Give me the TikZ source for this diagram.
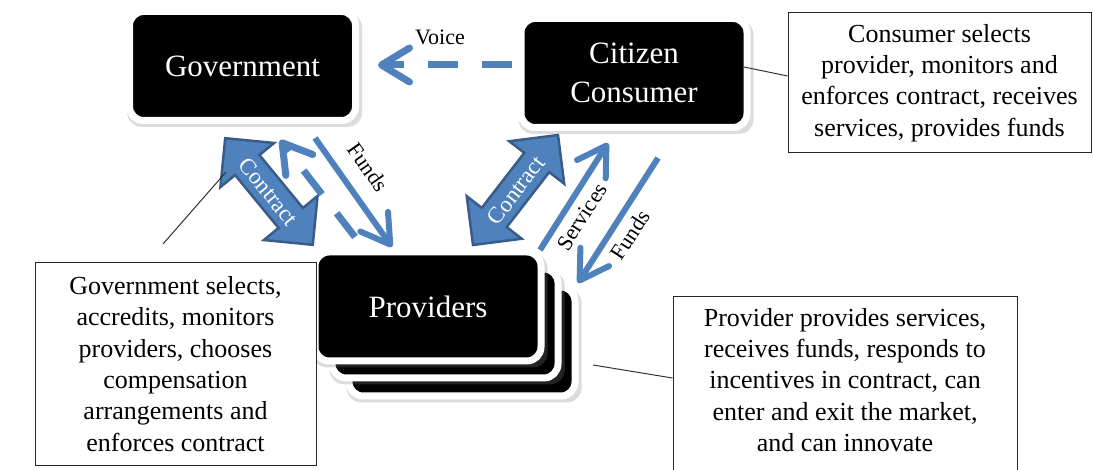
\documentclass[tikz,border=0pt]{standalone}
\usepackage{fontspec}
\setmainfont{Liberation Serif}
\usetikzlibrary{arrows.meta,shapes.arrows,shadows}
\definecolor{flowblue}{HTML}{4F81BD}
\definecolor{flowedge}{HTML}{385D8A}

\begin{document}
\begin{tikzpicture}[x=1pt, y=-1pt,
    actor/.style={draw=white, line width=7pt, fill=black, rounded corners=14pt, text=white, align=center,
      minimum width=226pt, minimum height=109pt, font=\fontsize{31}{38.5}\selectfont,
      drop shadow={shadow xshift=2pt, shadow yshift=-4pt, shadow scale=1.04, opacity=.28}},
    note/.style={draw=black!85, line width=1pt, fill=white, align=center, inner sep=0pt, font=\fontsize{26}{31.3}\selectfont},
    contract/.style={double arrow, draw=flowedge, line width=2.5pt, fill=flowblue, text=white,
      font=\fontsize{23}{23}\selectfont, double arrow head extend=19pt, double arrow tip angle=90,
      text height=16pt, text depth=0pt, inner ysep=6.5pt, inner xsep=0pt},
    flow/.style={flowblue, line width=6pt, -{Straight Barb[length=28pt, width=34pt, round]}},
    voice/.style={flow, line width=7pt, dash pattern=on 30pt off 24pt},
    lbl/.style={font=\fontsize{22}{22}\selectfont, inner sep=0pt},
    lead/.style={draw=black!80, line width=1pt}]
  \useasboundingbox (0,0) rectangle (1093,470);
  \clip (0,0) rectangle (1093,470);

  % the three parties
  \node[actor] (gov) at (242.5,66) {Government};
  \node[actor] (citizen) at (634,73) {Citizen\\Consumer};
  \node[actor] (prov3) at (462,341.5) {};
  \node[actor] (prov2) at (445,323.5) {};
  \node[actor] (prov) at (428,306.5) {Providers};

  % contracts
  \node[contract, minimum height=138pt, rotate=-50.6] (gcon) at (269,191.5) {Contract};
  \node[contract, minimum height=139pt, rotate=52.3] (ccon) at (515.5,190) {Contract};

  % money, services and voice
  \coordinate (cv-a) at (512,65);   \coordinate (cv-b) at (378,65);
  \coordinate (gf-a) at (315,138);  \coordinate (gf-b) at (392,247);
  \coordinate (gd-a) at (355,237);  \coordinate (gd-b) at (280,140);
  \coordinate (cs-a) at (540,250);  \coordinate (cs-b) at (608,143);
  \coordinate (cf-a) at (658,158);  \coordinate (cf-b) at (578,283);
  \draw[voice] (cv-a) -- (cv-b);
  \draw[voice] (gd-a) -- (gd-b);
  \draw[flow] (gf-a) -- (gf-b);
  \draw[flow] (cs-a) -- (cs-b);
  \draw[flow] (cf-a) -- (cf-b);
  \node[lbl] (voicelbl) at (440,37) {Voice};
  \node[lbl, rotate=-55] (gfundlbl) at (368,167) {Funds};
  \node[lbl, rotate=57.6] (servlbl) at (582,217) {Services};
  \node[lbl, rotate=57] (cfundlbl) at (630,235) {Funds};

  % roles
  \node[note, minimum width=303pt, minimum height=140pt] (consnote) at (939.5,83)
    {Consumer selects\\provider, monitors and\\enforces contract, receives\\services, provides funds};
  \node[note, minimum width=281pt, minimum height=202pt] (govnote) at (175.5,364)
    {Government selects,\\accredits, monitors\\providers, chooses\\compensation\\arrangements and\\enforces contract};
  \node[note, minimum width=344pt, minimum height=240pt, anchor=north] (provnote) at (845,296) {};
  \node[align=center, inner sep=0pt, font=\fontsize{26}{31.3}\selectfont] (provtext) at (845,380)
    {Provider provides services,\\receives funds, responds to\\incentives in contract, can\\enter and exit the market,\\and can innovate};

  \coordinate (cl-a) at (744,67);
  \coordinate (gl-a) at (163,244);  \coordinate (gl-b) at (226,172);
  \coordinate (pl-a) at (593,365);
  \draw[lead] (cl-a) -- ([yshift=7pt]consnote.west);
  \draw[lead] (gl-a) -- (gl-b);
  \draw[lead] (pl-a) -- (provnote.west |- 0,378);
\end{tikzpicture}
\end{document}
